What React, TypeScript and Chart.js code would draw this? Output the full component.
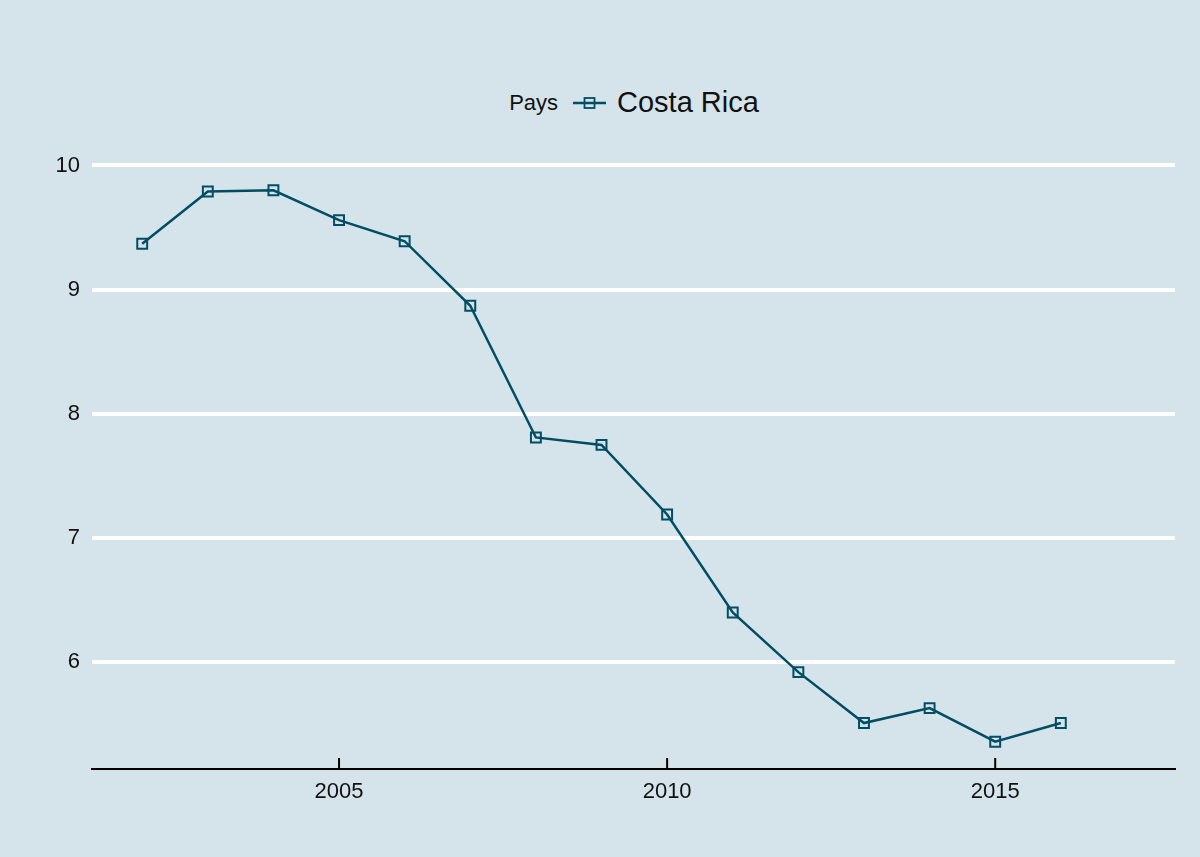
import { useEffect, useRef } from 'react'
import { Chart, registerables } from 'chart.js'

Chart.register(...registerables)

// Données
const years = [2002, 2003, 2004, 2005, 2006, 2007, 2008, 2009, 2010, 2011, 2012, 2013, 2014, 2015, 2016]
const costaRica = [9.37, 9.79, 9.80, 9.56, 9.39, 8.87, 7.81, 7.75, 7.19, 6.40, 5.92, 5.51, 5.63, 5.36, 5.51]
const xTicks = [2005, 2010, 2015]
const yTicks = [6, 7, 8, 9, 10]
const seriesLabel = 'Costa Rica'
const legendTitle = 'Pays'

const BG = '#d5e4eb'
const LINE = '#014d64'
const FONT = '"Liberation Sans", Arial, sans-serif'

// petites graduations vers l'intérieur sur l'axe x
const innerTicks = {
  id: 'innerTicks',
  afterDraw(chart: any) {
    const x = chart.scales.x
    const { ctx, chartArea } = chart
    ctx.save()
    ctx.strokeStyle = '#000'
    ctx.lineWidth = 2
    xTicks.forEach((v) => {
      const px = x.getPixelForValue(v)
      ctx.beginPath()
      ctx.moveTo(px, chartArea.bottom)
      ctx.lineTo(px, chartArea.bottom - 11)
      ctx.stroke()
    })
    ctx.restore()
  },
}

export default function App() {
  const chartRef = useRef<HTMLCanvasElement>(null)
  const chartInstance = useRef<Chart | null>(null)

  useEffect(() => {
    document.body.style.margin = '0'
    if (!chartRef.current) return
    if (chartInstance.current) chartInstance.current.destroy()

    const ctx = chartRef.current.getContext('2d')
    if (ctx) {
      chartInstance.current = new Chart(ctx, {
        type: 'line',
        data: {
          datasets: [
            {
              label: seriesLabel,
              data: years.map((y, i) => ({ x: y, y: costaRica[i] })),
              borderColor: LINE,
              borderWidth: 2.5,
              pointStyle: 'rect',
              pointRadius: 7,
              pointBorderWidth: 2,
              pointBorderColor: LINE,
              pointBackgroundColor: 'rgba(0,0,0,0)',
              tension: 0,
            },
          ],
        },
        options: {
          responsive: true,
          maintainAspectRatio: false,
          animation: false,
          layout: { padding: { top: 163, right: 25, left: 0, bottom: 0 } },
          plugins: {
            legend: { display: false },
            tooltip: { enabled: false },
          },
          scales: {
            x: {
              type: 'linear',
              min: 2001.235,
              max: 2017.74,
              afterBuildTicks: (s: any) => {
                s.ticks = xTicks.map((v) => ({ value: v }))
              },
              afterFit: (s: any) => {
                s.height = 88
              },
              grid: { display: false, drawTicks: false },
              border: { display: true, color: '#000', width: 2 },
              ticks: {
                padding: 10,
                color: '#111',
                font: { family: FONT, size: 22 },
                callback: (v: any) => String(v),
              },
            },
            y: {
              min: 5.14,
              max: 10.02,
              afterBuildTicks: (s: any) => {
                s.ticks = yTicks.map((v) => ({ value: v }))
              },
              afterFit: (s: any) => {
                s.width = 92
              },
              grid: { color: '#ffffff', lineWidth: 4, drawTicks: false },
              border: { display: false },
              ticks: {
                padding: 12,
                color: '#111',
                font: { family: FONT, size: 22 },
              },
            },
          },
        },
        plugins: [innerTicks],
      })
    }

    return () => {
      if (chartInstance.current) {
        chartInstance.current.destroy()
        chartInstance.current = null
      }
    }
  }, [])

  return (
    <div style={{ position: 'relative', width: 1200, height: 857, background: BG, fontFamily: FONT }}>
      <div
        style={{
          position: 'absolute',
          top: 86,
          left: 0,
          width: 1200,
          display: 'flex',
          justifyContent: 'center',
          alignItems: 'center',
          color: '#111',
          paddingLeft: 68,
          boxSizing: 'border-box',
        }}
      >
        <span style={{ fontSize: 22, marginRight: 15 }}>{legendTitle}</span>
        <svg width={33} height={14} style={{ marginRight: 11 }}>
          <line x1={0} y1={7} x2={33} y2={7} stroke={LINE} strokeWidth={2.5} />
          <rect x={11.5} y={2} width={10} height={10} fill="none" stroke={LINE} strokeWidth={1.8} />
        </svg>
        <span style={{ fontSize: 29 }}>{seriesLabel}</span>
      </div>
      <div style={{ position: 'absolute', inset: 0 }}>
        <canvas ref={chartRef} />
      </div>
    </div>
  )
}
